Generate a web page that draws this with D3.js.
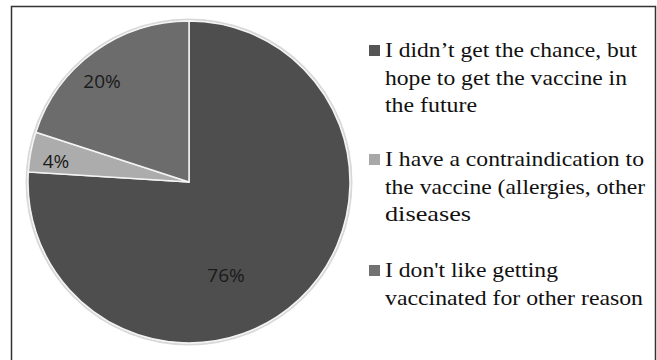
<!DOCTYPE html>
<html><head><meta charset="utf-8">
<script src="https://cdn.jsdelivr.net/npm/d3@7"></script>
<style>html,body{margin:0;padding:0;background:#fff;}svg{display:block;}</style>
</head><body>
<svg id="chart" width="657" height="360"></svg>
<script>
const categories = [
  "I didn\u2019t get the chance, but hope to get the vaccine in the future",
  "I have a contraindication to the vaccine (allergies, other diseases",
  "I don't like getting vaccinated for other reason"
];
const legendLines = [
  ["I didn\u2019t get the chance, but", "hope to get the vaccine in", "the future"],
  ["I have a contraindication to", "the vaccine (allergies, other", "diseases"],
  ["I don't like getting", "vaccinated for other reason"]
];
const values = [76, 4, 20];
const labels = ["76%", "4%", "20%"];
const colors = ["#4e4e4e", "#acacac", "#6c6c6c"];
const markerColors = ["#555555", "#a8a8a8", "#727272"];
// layout: rendered line widths in the reference
const lineWidths = [[252, 242, 92], [259, 260, 86], [173, 258]];

const svg = d3.select("#chart");
svg.append("path").attr("d", "M11.5,362 V6.5 H655.5 V362")
  .attr("fill", "none").attr("stroke", "#333").attr("stroke-width", 1.5);

const cx = 189, cy = 182, r = 161;
const g = svg.append("g").attr("transform", `translate(${cx},${cy})`);
const pie = d3.pie().sort(null).value(d => d);
const arcs = pie(values);
const arc = d3.arc().innerRadius(0).outerRadius(r);
g.append("circle").attr("r", r + 1.5).attr("fill", "none").attr("stroke", "#d8d8d8").attr("stroke-width", 2);
g.selectAll("path.slice").data(arcs).join("path").attr("class", "slice")
  .attr("d", arc).attr("fill", (d, i) => colors[i])
  .attr("stroke", "#f4f4f4").attr("stroke-width", 1.5);

const labelPos = [[37, 100], [-133, -14], [-87, -94]];
g.selectAll("text.pct").data(arcs).join("text").attr("class", "pct")
  .attr("x", (d, i) => labelPos[i][0]).attr("y", (d, i) => labelPos[i][1])
  .attr("text-anchor", "middle")
  .style("font-family", '"Open Sans"').attr("font-size", 19)
  .attr("fill", "#1a1a1a").text((d, i) => labels[i]);

const groupBase = [57, 166, 277];
const lg = svg.append("g");
legendLines.forEach((lines, i) => {
  lg.append("rect").attr("x", 369).attr("y", groupBase[i] - 12).attr("width", 11).attr("height", 11)
    .attr("fill", markerColors[i]);
  lines.forEach((t, j) => {
    lg.append("text").attr("x", 385).attr("y", groupBase[i] + j * 27.6)
      .style("font-family", '"Liberation Serif"').attr("font-size", 22)
      .attr("textLength", lineWidths[i][j]).attr("lengthAdjust", "spacingAndGlyphs")
      .attr("fill", "#111").text(t);
  });
});
</script>
</body></html>
